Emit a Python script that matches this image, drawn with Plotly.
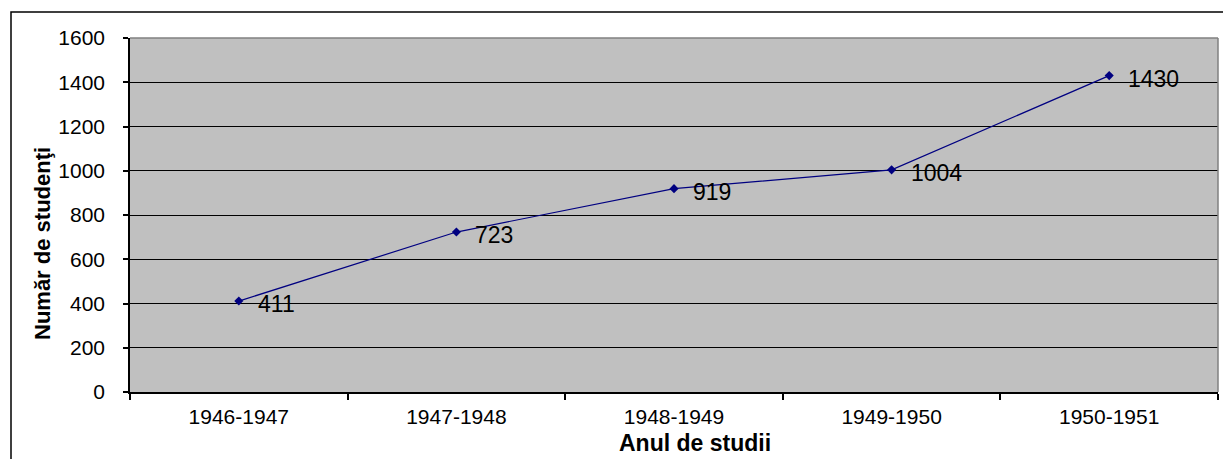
import plotly.graph_objects as go

years = ["1946-1947", "1947-1948", "1948-1949", "1949-1950", "1950-1951"]
students = [411, 723, 919, 1004, 1430]
y_ticks = [0, 200, 400, 600, 800, 1000, 1200, 1400, 1600]

FONT = "Arial, Liberation Sans, sans-serif"
W, H = 1223, 459
L, R, T, B = 130, 5, 38, 67
pw, ph = W - L - R, H - T - B

def px(x):
    return (x - L) / pw

def py(y):
    return (H - B - y) / ph

fig = go.Figure()
fig.add_trace(go.Scatter(
    x=years, y=students, mode="lines+markers",
    line=dict(color="#000080", width=1.2),
    marker=dict(symbol="diamond", size=7, color="#000080"),
    hoverinfo="x+y", showlegend=False,
))

for yr, v in zip(years, students):
    fig.add_annotation(x=yr, y=v, text=str(v), showarrow=False,
                       xanchor="left", yanchor="middle", xshift=17, yshift=-3,
                       font=dict(family=FONT, size=23, color="black"))

# axis titles
fig.add_annotation(xref="paper", yref="paper", x=px(695), y=py(443),
                   text="<b>Anul de studii</b>", showarrow=False,
                   xanchor="center", yanchor="middle",
                   font=dict(family=FONT, size=23, color="black"))
fig.add_annotation(xref="paper", yref="paper", x=px(42), y=py(244),
                   text="<b>Număr de studenţi</b>", showarrow=False, textangle=-90,
                   xanchor="center", yanchor="middle",
                   font=dict(family=FONT, size=22, color="black"))

# plot-area border (top/right gray) and outer chart border
fig.add_shape(type="line", xref="paper", yref="paper", x0=0, x1=1, y0=1, y1=1,
              line=dict(color="#808080", width=1.5), layer="above")
fig.add_shape(type="line", xref="paper", yref="paper", x0=1, x1=1, y0=0, y1=1,
              line=dict(color="#808080", width=1.5), layer="above")
fig.add_shape(type="rect", xref="paper", yref="paper",
              x0=px(11), x1=px(1240), y0=py(12), y1=py(480),
              line=dict(color="black", width=1.5), layer="above")

fig.update_layout(
    width=W, height=H,
    margin=dict(l=L, r=R, t=T, b=B, pad=0),
    paper_bgcolor="white", plot_bgcolor="#C0C0C0",
    font=dict(family=FONT, color="black"),
)
fig.update_xaxes(
    type="category", range=[-0.5, len(years) - 0.5],
    tickson="boundaries", ticks="outside", ticklen=6,
    tickcolor="black", tickwidth=1.5,
    showline=True, linecolor="black", linewidth=1.5,
    showgrid=False, tickfont=dict(size=21, family=FONT),
    ticklabelstandoff=5,
)
fig.update_yaxes(
    range=[0, 1600], tickvals=y_ticks, ticks="outside", ticklen=5,
    tickcolor="black", tickwidth=1.5,
    showline=True, linecolor="black", linewidth=1.5,
    showgrid=True, gridcolor="black", gridwidth=1,
    zeroline=False, tickfont=dict(size=21, family=FONT),
    ticklabelstandoff=14,
)

fig.write_html(
    "out.html",
    config={"displayModeBar": False},
    post_script="document.body.style.margin='0';document.body.style.overflow='hidden';",
)
